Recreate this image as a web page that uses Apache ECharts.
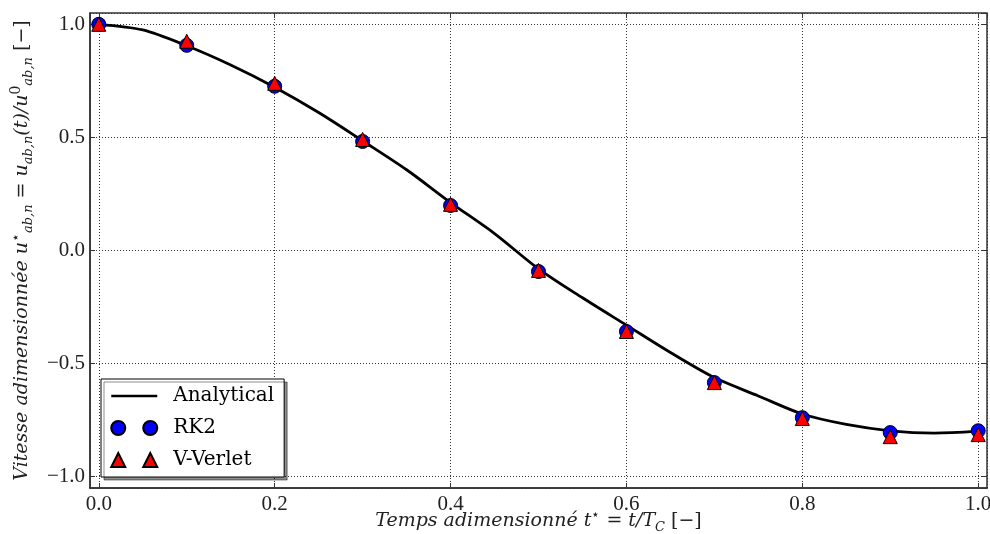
<!DOCTYPE html>
<html>
<head>
<meta charset="utf-8">
<script src="https://cdn.jsdelivr.net/npm/echarts@6/dist/echarts.min.js"></script>
<style>html,body{margin:0;padding:0;background:#fff}#c{width:990px;height:534px}</style>
</head>
<body>
<div id="c"></div>
<script>
// ---- data ----
var timePoints = [0.0, 0.1, 0.2, 0.3, 0.4, 0.5, 0.6, 0.7, 0.8, 0.9, 1.0];
var rk2Values = [1.000, 0.907, 0.726, 0.482, 0.199, -0.093, -0.358, -0.584, -0.739, -0.805, -0.797];
var verletValues = [1.000, 0.925, 0.739, 0.491, 0.204, -0.088, -0.358, -0.584, -0.743, -0.823, -0.814];
var analyticTime = [0.00, 0.05, 0.10, 0.15, 0.20, 0.25, 0.30, 0.35, 0.40, 0.45, 0.50,
                    0.55, 0.60, 0.65, 0.70, 0.75, 0.80, 0.85, 0.90, 0.95, 1.00];
var analyticValues = [1.000, 0.975, 0.905, 0.820, 0.722, 0.610, 0.485, 0.357, 0.212, 0.075, -0.081,
                      -0.209, -0.330, -0.451, -0.562, -0.643, -0.723, -0.769, -0.797, -0.807, -0.800];
var seriesNames = ['Analytical', 'RK2', 'V-Verlet'];

function pairs(xs, ys) { return xs.map(function (x, i) { return [x, ys[i]]; }); }
function fmt(v) { return v.toFixed(1).replace('-', '\u2212'); }

var serif = 'Liberation Serif';
var wideSerif = 'DejaVu Serif';
var tickFont = { fontFamily: serif, fontSize: 21, color: '#222' };

var chart = echarts.init(document.getElementById('c'), null, { renderer: 'canvas' });
var mainStyle = { fontFamily: wideSerif, fontStyle: 'italic', fontSize: 19, color: '#222', lineHeight: 26, verticalAlign: 'middle' };
var subStyle = { fontFamily: wideSerif, fontStyle: 'italic', fontSize: 13, color: '#222', lineHeight: 12, verticalAlign: 'bottom' };
var supStyle = { fontFamily: wideSerif, fontSize: 14, color: '#222', lineHeight: 14, verticalAlign: 'top' };
var romStyle = { fontFamily: wideSerif, fontSize: 19, color: '#222', lineHeight: 26, verticalAlign: 'middle' };
var rich = { m: mainStyle, s: subStyle, p: supStyle, r: romStyle };

chart.setOption({
  animation: false,
  backgroundColor: '#fff',
  grid: { left: 90, right: 3, top: 13, bottom: 46, show: true, borderColor: '#333', borderWidth: 1.5,
          backgroundColor: 'transparent', outerBoundsMode: 'none', containLabel: false },
  legend: {
    left: 101, top: 379, orient: 'vertical',
    backgroundColor: '#fff', borderColor: '#000', borderWidth: 1,
    shadowColor: 'rgba(0,0,0,0.45)', shadowOffsetX: 3, shadowOffsetY: 3, shadowBlur: 0,
    padding: [6, 10, 6, 9], itemGap: 10, itemWidth: 46, itemHeight: 14,
    textStyle: { fontFamily: wideSerif, fontSize: 20, color: '#000', lineHeight: 22, padding: [0, 0, 0, 11] },
    data: [
      { name: seriesNames[0], itemStyle: { color: 'rgba(0,0,0,0)', borderWidth: 0 }, lineStyle: { width: 2.5, color: '#000' } },
      { name: seriesNames[1], icon: 'path://M0,7 A7,7 0 1,1 14,7 A7,7 0 1,1 0,7 Z M32,7 A7,7 0 1,1 46,7 A7,7 0 1,1 32,7 Z' },
      { name: seriesNames[2], icon: 'path://M7,0 L14,14 L0,14 Z M39,0 L46,14 L32,14 Z' }
    ]
  },
  xAxis: [{
    type: 'value', min: -0.01, max: 1.01, splitNumber: 5,
    axisLine: { show: true, onZero: false, lineStyle: { color: '#333', width: 1.5 } },
    axisTick: { show: true, inside: true, length: 5, lineStyle: { color: '#333' } },
    axisLabel: Object.assign({ margin: 6, showMinLabel: false, showMaxLabel: false, formatter: fmt }, tickFont),
    splitLine: { show: true, lineStyle: { color: '#333', type: [1, 2], width: 1 } },
    name: '{m|Temps adimensionn\u00e9 t}{p|\u22c6}{m| = t/T}{s|C}{r| [\u2212]}',
    nameLocation: 'middle', nameGap: 20, nameMoveOverlap: false,
    nameTextStyle: { rich: rich }
  }, {
    type: 'value', min: -0.01, max: 1.01, splitNumber: 5, position: 'top',
    axisLine: { show: false, onZero: false },
    axisTick: { show: true, inside: true, length: 5, lineStyle: { color: '#333' } },
    axisLabel: { show: false }, splitLine: { show: false }
  }],
  yAxis: [{
    type: 'value', min: -1.05, max: 1.05, splitNumber: 5,
    axisLine: { show: true, onZero: false, lineStyle: { color: '#333', width: 1.5 } },
    axisTick: { show: true, inside: true, length: 5, lineStyle: { color: '#333' } },
    axisLabel: Object.assign({ margin: 5, showMinLabel: false, showMaxLabel: false, formatter: fmt }, tickFont),
    splitLine: { show: true, lineStyle: { color: '#333', type: [1, 2], width: 1 } },
    name: '{m|Vitesse adimensionn\u00e9e u}{p|\u22c6}{s|ab,n}{m| = u}{s|ab,n}{m|(t)/u}{p|0}{s|ab,n}{r| [\u2212]}',
    nameLocation: 'middle', nameGap: 55, nameRotate: 90,
    nameTextStyle: { rich: rich }
  }, {
    type: 'value', min: -1.05, max: 1.05, splitNumber: 5, position: 'right',
    axisLine: { show: false, onZero: false },
    axisTick: { show: true, inside: true, length: 5, lineStyle: { color: '#333' } },
    axisLabel: { show: false }, splitLine: { show: false }
  }],
  series: [
    {
      name: seriesNames[0], type: 'line', xAxisIndex: 0, yAxisIndex: 0,
      data: pairs(analyticTime, analyticValues), smooth: 0.3, symbol: 'none',
      lineStyle: { color: '#000', width: 2.8 }, itemStyle: { color: '#000' }, z: 2
    },
    {
      name: seriesNames[1], type: 'scatter', xAxisIndex: 0, yAxisIndex: 0,
      data: pairs(timePoints, rk2Values), symbol: 'circle', symbolSize: 14,
      itemStyle: { color: '#0000ff', borderColor: '#000', borderWidth: 1, opacity: 1 }, z: 3
    },
    {
      name: seriesNames[2], type: 'scatter', xAxisIndex: 0, yAxisIndex: 0,
      data: pairs(timePoints, verletValues), symbol: 'triangle', symbolSize: 14,
      itemStyle: { color: '#ff0000', borderColor: '#000', borderWidth: 1, opacity: 1 }, z: 4
    }
  ]
});
</script>
</body>
</html>
